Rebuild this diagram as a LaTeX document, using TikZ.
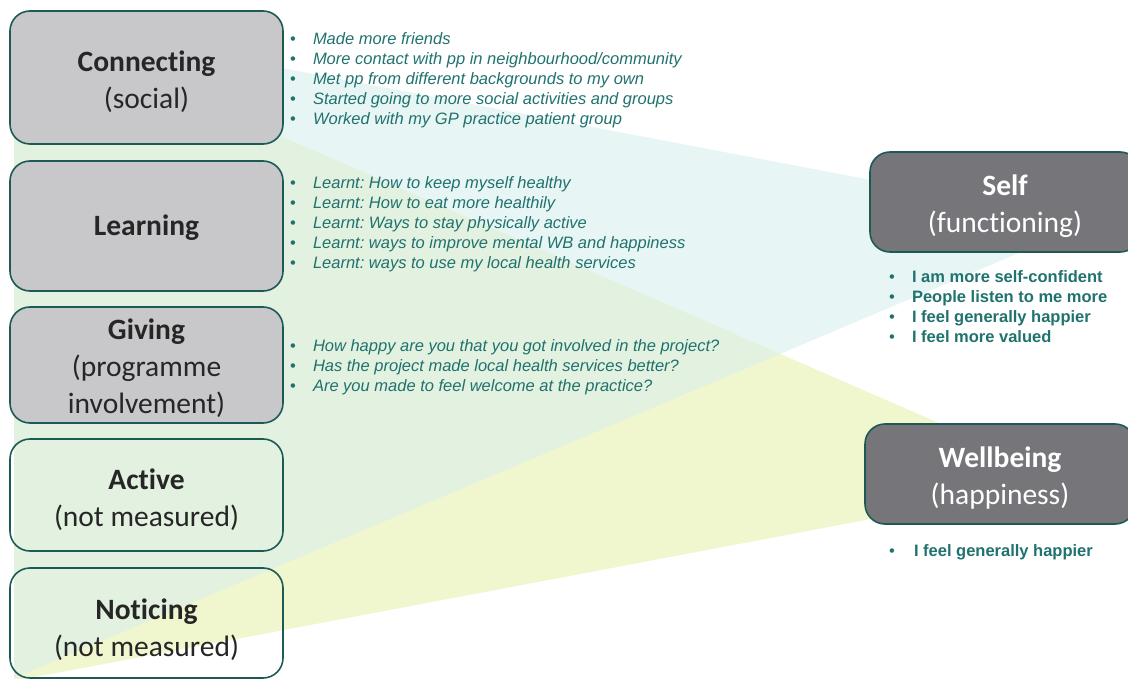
\documentclass[tikz,border=0pt]{standalone}
\usepackage{fontspec}
\setmainfont{Liberation Sans}
\newfontfamily\boxfont[Ligatures=NoCommon]{Carlito}
\frenchspacing
\definecolor{bluebg}{RGB}{232,245,245}
\definecolor{yellowbg}{RGB}{240,246,206}
\definecolor{greenbg}{RGB}{227,241,224}
\definecolor{boxgrey}{RGB}{200,200,202}
\definecolor{darkgrey}{RGB}{118,118,122}
\definecolor{edgeteal}{RGB}{28,90,86}
\definecolor{textteal}{RGB}{31,114,110}
\definecolor{titlegrey}{RGB}{38,38,38}
\begin{document}
\begin{tikzpicture}[x=1pt,y=-1pt,
  wbox/.style={draw=edgeteal, line width=1.6pt, rounded corners=20pt, anchor=north west,
    inner sep=0pt, outer sep=0pt},
  greybox/.style={wbox, fill=boxgrey},
  darkbox/.style={wbox, fill=darkgrey},
  title/.style={inner sep=0pt, align=center, text=titlegrey,
    font=\boxfont\fontsize{29.5}{37}\selectfont},
  wtitle/.style={title, text=white},
  item/.style={anchor=base west, inner sep=0pt, outer sep=0pt, text=textteal,
    font=\fontsize{16.5}{19.8}\selectfont\itshape},
  bolditem/.style={anchor=base west, inner sep=0pt, outer sep=0pt, text=textteal,
    font=\fontsize{16.5}{19.8}\selectfont\bfseries}
]
\useasboundingbox (0,0) rectangle (1128,679);
\clip (0,0) rectangle (1128,679);

% background wedges
\fill[bluebg] (14,17) -- (1092,222) -- (14,678) -- cycle;
\fill[yellowbg] (14,20) -- (1072,481) -- (14,681) -- cycle;
\begin{scope}
  \clip (14,17) -- (1092,222) -- (14,678) -- cycle;
  \fill[greenbg] (14,20) -- (1072,481) -- (14,681) -- cycle;
\end{scope}

% left boxes
\node[greybox, minimum width=273pt, minimum height=133pt] (connecting) at (10,11) {};
\node[title] (connectingT) at ([yshift=-4.5pt]connecting.center) {\bfseries Connecting\\(social)};
\node[greybox, minimum width=273pt, minimum height=130pt] (learning) at (10,161) {};
\node[title] (learningT) at ([yshift=-2pt]learning.center) {\bfseries Learning};
\node[greybox, minimum width=273pt, minimum height=116pt] (giving) at (10,307) {};
\node[title] (givingT) at ([yshift=-3.5pt]giving.center) {\bfseries Giving\\(programme\\involvement)};
\node[wbox, minimum width=273pt, minimum height=112pt] (active) at (10,439) {};
\node[title] (activeT) at ([yshift=-4.5pt]active.center) {\bfseries Active\\(not measured)};
\node[wbox, minimum width=273pt, minimum height=110pt] (noticing) at (10,568) {};
\node[title] (noticingT) at ([yshift=-6.5pt]noticing.center) {\bfseries Noticing\\(not measured)};

% right boxes
\node[darkbox, minimum width=270pt, minimum height=100pt] (self) at (870,152) {};
\node[wtitle] (selfT) at ([yshift=-4pt]self.center) {\bfseries Self\\(functioning)};
\node[darkbox, minimum width=270pt, minimum height=100pt] (wellbeing) at (865,424) {};
\node[wtitle] (wellbeingT) at ([yshift=-4pt]wellbeing.center) {\bfseries Wellbeing\\(happiness)};

% lists
\foreach \t [count=\i] in {Made more friends,
  More contact with pp in neighbourhood/community,
  Met pp from different backgrounds to my own,
  Started going to more social activities and groups,
  Worked with my GP practice patient group}
  \node[item] (con\i) at (290,{45+19.8*(\i-1)}) {\makebox[23pt][l]{\upshape\textbullet}\t};

\foreach \t [count=\i] in {Learnt: How to keep myself healthy,
  Learnt: How to eat more healthily,
  Learnt: Ways to stay physically active,
  Learnt: ways to improve mental WB and happiness,
  Learnt: ways to use my local health services}
  \node[item] (lea\i) at (290,{189+19.8*(\i-1)}) {\makebox[23pt][l]{\upshape\textbullet}\t};

\foreach \t [count=\i] in {How happy are you that you got involved in the project?,
  Has the project made local health services better?,
  Are you made to feel welcome at the practice?}
  \node[item] (giv\i) at (290,{352+19.8*(\i-1)}) {\makebox[23pt][l]{\upshape\textbullet}\t};

\foreach \t [count=\i] in {I am more self-confident,
  People listen to me more,
  I feel generally happier,
  I feel more valued}
  \node[bolditem] (sel\i) at (889,{283+19.8*(\i-1)}) {\makebox[23pt][l]{\mdseries\textbullet}\t};

\node[bolditem] (wel1) at (889,556) {\makebox[25pt][l]{\mdseries\textbullet}I feel generally happier};
\end{tikzpicture}
\end{document}
